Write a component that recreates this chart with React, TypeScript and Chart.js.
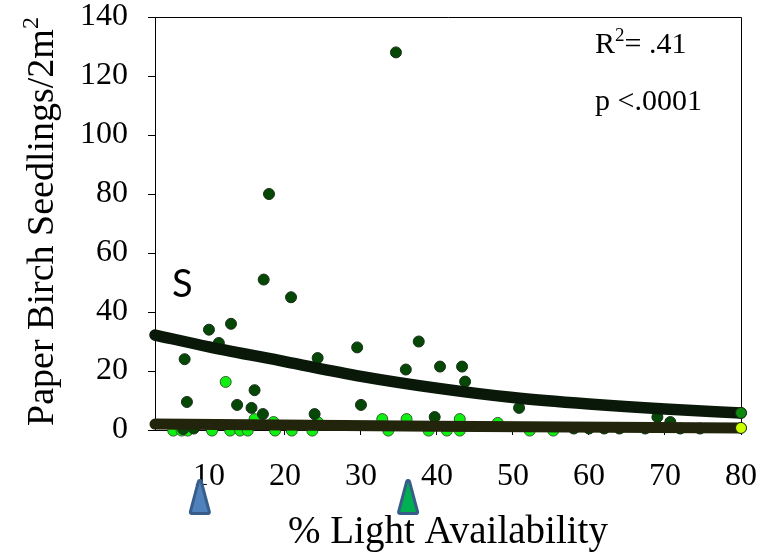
import React, { useEffect, useRef } from "react";
import { Chart, registerables } from "chart.js";
Chart.register(...registerables);

// Dark green observations (% light, seedlings)
const darkX = [34.6, 17.9, 17.2, 20.8, 12.9, 10.0, 11.3, 6.8, 24.3, 29.5, 37.6, 35.9, 40.4, 43.3, 43.7, 7.1, 13.7, 16.0, 15.6, 17.1, 23.9, 30.0, 39.7, 50.8, 69.0, 70.7, 6.6, 8.0, 58, 60, 62, 64, 67.4, 72, 74.6];
const darkY = [128, 80, 51, 45, 36, 34, 29.5, 24, 24.4, 28, 30, 20.5, 21.5, 21.5, 16.4, 9.5, 8.5, 13.5, 7.5, 5.4, 5.4, 8.5, 4.4, 7.5, 4.4, 2.7, 0.3, 0.5, 0.5, 0.5, 0.5, 0.5, 0.5, 0.5, 0.5];

// Bright green observations
const brightX = [12.2, 16.0, 18.5, 24.3, 32.8, 36.0, 43.0, 48.0, 5.3, 6.4, 7.2, 10.4, 12.8, 14.1, 15.1, 18.7, 20.9, 23.6, 33.6, 38.9, 41.3, 43.0, 52.2, 55.3];
const brightY = [16.3, 3.7, 2.7, 2.7, 3.7, 3.7, 3.7, 2.4, -0.2, -0.2, -0.2, -0.2, -0.2, -0.2, -0.2, -0.2, -0.2, -0.2, -0.2, -0.2, -0.2, -0.2, -0.2, -0.2];

// Fitted curve
const fitX = [2.9, 10, 20, 30, 40, 50, 60, 70, 80];
const fitY = [32.2, 28.2, 23.2, 18.2, 14.2, 11.0, 8.8, 7.1, 5.8];

// Baseline fit
const baseX = [2.9, 40, 80];
const baseY = [2.0, 1.3, 0.7];

// End markers
const endX = [80, 80];
const endY = [5.8, 0.7];

const xTickValues = [10, 20, 30, 40, 50, 60, 70, 80];
const arrowX = [8.8, 36.2];
const arrowFill = ["#4f81bd", "#00b050"];

const SERIF = "'Liberation Serif', 'Times New Roman', serif";

export default function App() {
  const ref = useRef<HTMLCanvasElement>(null);
  useEffect(() => {
    if (!ref.current) return;
    const toPts = (xs: number[], ys: number[]) => xs.map((x, i) => ({ x, y: ys[i] }));

    const decor = {
      id: "decor",
      beforeDatasetsDraw(chart: any) {
        const { ctx, chartArea } = chart;
        ctx.save();
        ctx.strokeStyle = "#000";
        ctx.lineWidth = 1;
        ctx.beginPath();
        ctx.moveTo(chartArea.left, chartArea.top + 0.5);
        ctx.lineTo(chartArea.right + 0.5, chartArea.top + 0.5);
        ctx.lineTo(chartArea.right + 0.5, chartArea.bottom);
        ctx.stroke();
        ctx.restore();
      },
      afterDraw(chart: any) {
        const { ctx, chartArea, scales } = chart;
        ctx.save();
        ctx.fillStyle = "#000";
        ctx.textBaseline = "alphabetic";
        // x tick labels
        ctx.textAlign = "center";
        ctx.font = `32px ${SERIF}`;
        xTickValues.forEach((v) => {
          ctx.fillText(String(v), scales.x.getPixelForValue(v), chartArea.bottom + 55);
        });
        // x title
        ctx.font = `39px ${SERIF}`;
        ctx.fillText("% Light Availability", (chartArea.left + chartArea.right) / 2, chartArea.bottom + 113);
        ctx.textAlign = "left";
        // y-axis title with superscript
        const t1 = "Paper Birch Seedlings/2m";
        const t2 = "2";
        ctx.font = `38px ${SERIF}`;
        const w1 = ctx.measureText(t1).width;
        ctx.font = `24px ${SERIF}`;
        const w2 = ctx.measureText(t2).width;
        const cy = (chartArea.top + chartArea.bottom) / 2 - 2;
        ctx.save();
        ctx.translate(53, cy + (w1 + w2) / 2);
        ctx.rotate(-Math.PI / 2);
        ctx.font = `38px ${SERIF}`;
        ctx.fillText(t1, 0, 0);
        ctx.font = `24px ${SERIF}`;
        ctx.fillText(t2, w1, -15);
        ctx.restore();
        // stats text
        const tx = chartArea.right - 146;
        ctx.font = `30px ${SERIF}`;
        ctx.fillText("R", tx, chartArea.top + 36);
        const rw = ctx.measureText("R").width;
        ctx.font = `19px ${SERIF}`;
        ctx.fillText("2", tx + rw, chartArea.top + 24);
        const sw = ctx.measureText("2").width;
        ctx.font = `30px ${SERIF}`;
        ctx.fillText("= .41", tx + rw + sw, chartArea.top + 36);
        ctx.fillText("p <.0001", tx, chartArea.top + 93);
        // S label
        ctx.font = `38px Lato, 'Liberation Sans', sans-serif`;
        ctx.fillText("S", chartArea.left + 17, chartArea.top + 280);
        // arrows
        arrowX.forEach((v, i) => {
          const px = scales.x.getPixelForValue(v);
          ctx.beginPath();
          ctx.moveTo(px, 482);
          ctx.lineTo(px + 8, 512);
          ctx.lineTo(px - 8, 512);
          ctx.closePath();
          ctx.lineJoin = "round";
          ctx.lineWidth = 6;
          ctx.strokeStyle = "#385d8a";
          ctx.fillStyle = arrowFill[i];
          ctx.stroke();
          ctx.fill();
        });
        ctx.restore();
      },
    };

    const chart = new Chart(ref.current, {
      type: "scatter",
      data: {
        datasets: [
          {
            label: "end",
            data: toPts(endX, endY),
            backgroundColor: ["#0d8a0d", "#ccff00"],
            borderColor: "#1a2a10",
            borderWidth: 1,
            pointRadius: 5.5,
            clip: false,
            order: 0,
          } as any,
          {
            label: "fit",
            data: toPts(fitX, fitY),
            showLine: true,
            borderColor: "#0a180a",
            borderWidth: 11.5,
            borderCapStyle: "round",
            cubicInterpolationMode: "monotone",
            pointRadius: 0,
            clip: false,
            order: 1,
          } as any,
          {
            label: "base",
            data: toPts(baseX, baseY),
            showLine: true,
            borderColor: "#22250c",
            borderWidth: 11,
            borderCapStyle: "round",
            pointRadius: 0,
            clip: false,
            order: 1,
          } as any,
          {
            label: "dark",
            data: toPts(darkX, darkY),
            backgroundColor: "#054805",
            borderColor: "#1a2e1a",
            borderWidth: 1,
            pointRadius: 5.5,
            clip: false,
            order: 2,
          } as any,
          {
            label: "bright",
            data: toPts(brightX, brightY),
            backgroundColor: "#10f010",
            borderColor: "#2f5f2f",
            borderWidth: 1,
            pointRadius: 5.5,
            clip: false,
            order: 3,
          } as any,
        ],
      },
      options: {
        animation: false,
        responsive: false,
        devicePixelRatio: 1,
        layout: { padding: { left: 0, right: 20, top: 17, bottom: 0 }, autoPadding: false } as any,
        plugins: { legend: { display: false }, tooltip: { enabled: false } },
        scales: {
          x: {
            type: "linear",
            min: 2.9,
            max: 80,
            afterBuildTicks: (s: any) => {
              s.ticks = xTickValues.map((v) => ({ value: v }));
            },
            afterFit: (s: any) => {
              s.height = 125;
              s.paddingLeft = 0;
              s.paddingRight = 0;
              s.paddingTop = 0;
              s.paddingBottom = 0;
            },
            grid: { display: true, drawOnChartArea: false, drawTicks: true, tickLength: 5, color: "#000" },
            border: { display: true, color: "#000", width: 1 },
            ticks: { color: "rgba(0,0,0,0)", font: { family: SERIF, size: 32 }, padding: 20, maxRotation: 0, autoSkip: false },
            title: { display: false },
          },
          y: {
            type: "linear",
            min: 0,
            max: 140,
            ticks: { stepSize: 20, color: "#000", font: { family: SERIF, size: 32 }, padding: 20 },
            afterFit: (s: any) => {
              s.width = 155;
              s.paddingLeft = 0;
              s.paddingRight = 0;
              s.paddingTop = 0;
              s.paddingBottom = 0;
            },
            grid: { display: true, drawOnChartArea: false, drawTicks: true, tickLength: 7, color: "#000" },
            border: { display: true, color: "#000", width: 1 },
            title: { display: false },
          },
        },
      },
      plugins: [decor],
    });
    return () => chart.destroy();
  }, []);

  return (
    <div style={{ position: "fixed", left: 0, top: 0, width: 761, height: 555, background: "#fff" }}>
      <canvas ref={ref} width={761} height={555} style={{ display: "block" }} />
    </div>
  );
}
